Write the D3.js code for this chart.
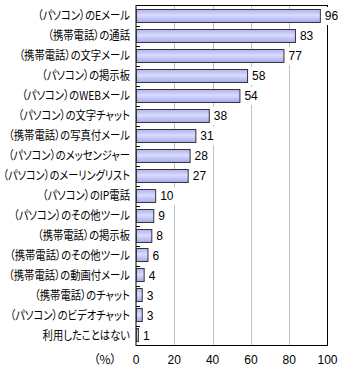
<!DOCTYPE html>
<html><head><meta charset="utf-8">
<script src="https://cdn.jsdelivr.net/npm/d3@7"></script>
<style>body{margin:0;background:#fff;}svg{display:block;} .lab{font-feature-settings:"palt" 1;}</style>
</head><body><svg id="c" width="345" height="370"></svg>
<script>
const categories = ["（パソコン）のEメール","（携帯電話）の通話","（携帯電話）の文字メール","（パソコン）の掲示板","（パソコン）のWEBメール","（パソコン）の文字チャット","（携帯電話）の写真付メール","（パソコン）のメッセンジャー","（パソコン）のメーリングリスト","（パソコン）のIP電話","（パソコン）のその他ツール","（携帯電話）の掲示板","（携帯電話）のその他ツール","（携帯電話）の動画付メール","（携帯電話）のチャット","（パソコン）のビデオチャット","利用したことはない"];
const values = [96,83,77,58,54,38,31,28,27,10,9,8,6,4,3,3,1];
const xTicks = [0,20,40,60,80,100];
const unitLabel = "（%）";

const svg = d3.select("#c");
const font = "'Noto Sans CJK JP', sans-serif";
const numFont = "'Liberation Sans', Arial, sans-serif";
const L = 136, R = 327.5, T = 5.5, B = 345.5;
const x = d3.scaleLinear().domain([0,100]).range([L,R]);
const y = d3.scaleBand().domain(categories).range([T,B]).paddingInner(0.33).paddingOuter(0.2);
const yb = d3.scaleBand().domain(categories).range([T,B]);

const defs = svg.append("defs");
const g = defs.append("linearGradient").attr("id","bg").attr("x1",0).attr("y1",0).attr("x2",0).attr("y2",1);
g.append("stop").attr("offset","0%").attr("stop-color","#aeb2ee");
g.append("stop").attr("offset","45%").attr("stop-color","#dadcfe");
g.append("stop").attr("offset","100%").attr("stop-color","#a4a8ec");

// gridlines
svg.append("g").selectAll("line").data(xTicks.filter(d=>d>0&&d<100)).join("line")
  .attr("x1",d=>Math.round(x(d))+0.5).attr("x2",d=>Math.round(x(d))+0.5)
  .attr("y1",T).attr("y2",B).attr("stroke","#c0c0c0").attr("stroke-width",1);

// frame
svg.append("rect").attr("x",L).attr("y",T).attr("width",R-L).attr("height",B-T)
  .attr("fill","none").attr("stroke","#000").attr("stroke-width",1);

// band ticks on left axis
svg.append("g").selectAll("line").data(categories.slice(1)).join("line")
  .attr("x1",L).attr("x2",L+4).attr("y1",d=>Math.round(yb(d))+0.5).attr("y2",d=>Math.round(yb(d))+0.5)
  .attr("stroke","#000");

// bars
svg.append("g").selectAll("rect").data(values).join("rect")
  .attr("x",L+0.5).attr("y",(d,i)=>Math.round(y(categories[i]))+0.5)
  .attr("width",d=>Math.max(1,x(d)-L)).attr("height",Math.round(y.bandwidth()))
  .attr("fill","url(#bg)").attr("stroke","#333").attr("stroke-width",1);

// value labels with white backgrounds
const vl = svg.append("g");
values.forEach((v,i)=>{
  const cy = yb(categories[i]) + yb.bandwidth()/2 + 0.5;
  const tx = x(v) + 5;
  const t = vl.append("text").attr("x",tx).attr("y",cy).attr("dy","0.36em")
    .attr("font-family",numFont).attr("font-size",12).attr("fill","#000").text(v);
  const bb = t.node().getBBox();
  vl.insert("rect","text").attr("x",bb.x-2).attr("y",cy-9).attr("width",bb.width+4).attr("height",18).attr("fill","#fff");
});
vl.raise();

// category labels (condensed like the original narrow UI font)
const maxW = 127, squeeze = 0.86;
svg.append("g").selectAll("text").data(categories).join("text")
  .attr("class","lab")
  .attr("x",130).attr("y",d=>yb(d)+yb.bandwidth()/2+0.5).attr("dy","0.36em")
  .attr("text-anchor","end").attr("font-family",font).attr("font-size",12).attr("fill","#000")
  .text(d=>d)
  .each(function(){
    const w = this.getComputedTextLength();
    d3.select(this).attr("textLength",Math.min(maxW, w*squeeze)).attr("lengthAdjust","spacingAndGlyphs");
  });

// x tick labels
svg.append("g").selectAll("text").data(xTicks).join("text")
  .attr("x",d=>x(d)).attr("y",360).attr("dy","0.36em").attr("text-anchor","middle")
  .attr("font-family",numFont).attr("font-size",12).attr("fill","#000").text(d=>d);
svg.append("text").attr("class","lab").attr("x",105).attr("y",360).attr("dy","0.36em").attr("text-anchor","middle")
  .attr("font-family",font).attr("font-size",12).attr("fill","#000").text(unitLabel);
</script></body></html>
